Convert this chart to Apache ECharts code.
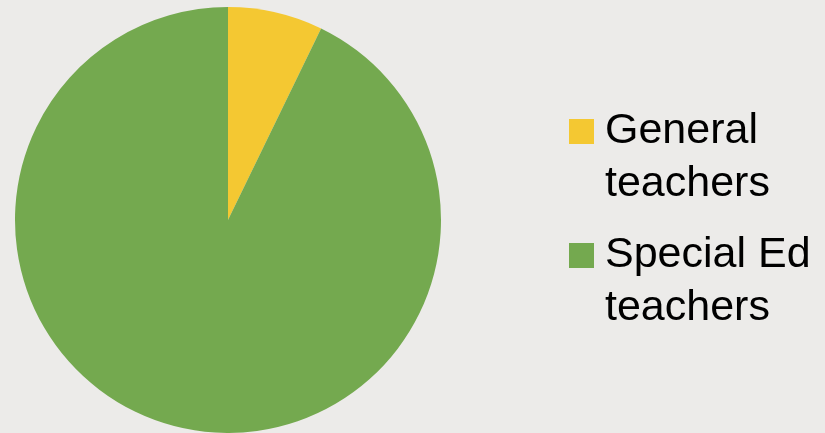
<!DOCTYPE html>
<html>
<head>
<meta charset="utf-8">
<script src="https://cdn.jsdelivr.net/npm/echarts@6/dist/echarts.min.js"></script>
<style>
    html, body { margin: 0; padding: 0; background: #ecebe9; }
    #container { width: 825px; height: 433px; }
</style>
</head>
<body>
<div id="container"></div>
<script type="text/javascript">
    var categories = ['General teachers', 'Special Ed teachers'];
    var shares = [7.2, 92.8];
    var colors = ['#f4c832', '#74a94f'];

    var dom = document.getElementById("container");
    var myChart = echarts.init(dom);

    var pieData = categories.map(function (name, i) {
        return {name: name, value: shares[i], itemStyle: {color: colors[i]}};
    });

    // one legend per item; empty first line puts the name line beside the square
    function legendFor(name, top) {
        return {
            data: [name],
            left: 569,
            top: top,
            orient: 'vertical',
            padding: 0,
            icon: 'rect',
            itemWidth: 25,
            itemHeight: 25,
            selectedMode: false,
            formatter: function (n) {
                return '\n' + n.replace(' teachers', '\nteachers');
            },
            textStyle: {
                fontFamily: 'Liberation Sans',
                fontSize: 43,
                lineHeight: 53,
                color: '#000',
                padding: [0, 0, 0, 6]
            }
        };
    }

    var option = {
        backgroundColor: '#ecebe9',
        animation: false,
        legend: [
            legendFor(categories[0], 52),
            legendFor(categories[1], 176)
        ],
        series: [
            {
                type: 'pie',
                center: [228, 220],
                radius: 213,
                startAngle: 90,
                clockwise: true,
                label: {show: false},
                labelLine: {show: false},
                emphasis: {disabled: true},
                data: pieData
            }
        ]
    };
    myChart.setOption(option, true);
</script>
</body>
</html>
